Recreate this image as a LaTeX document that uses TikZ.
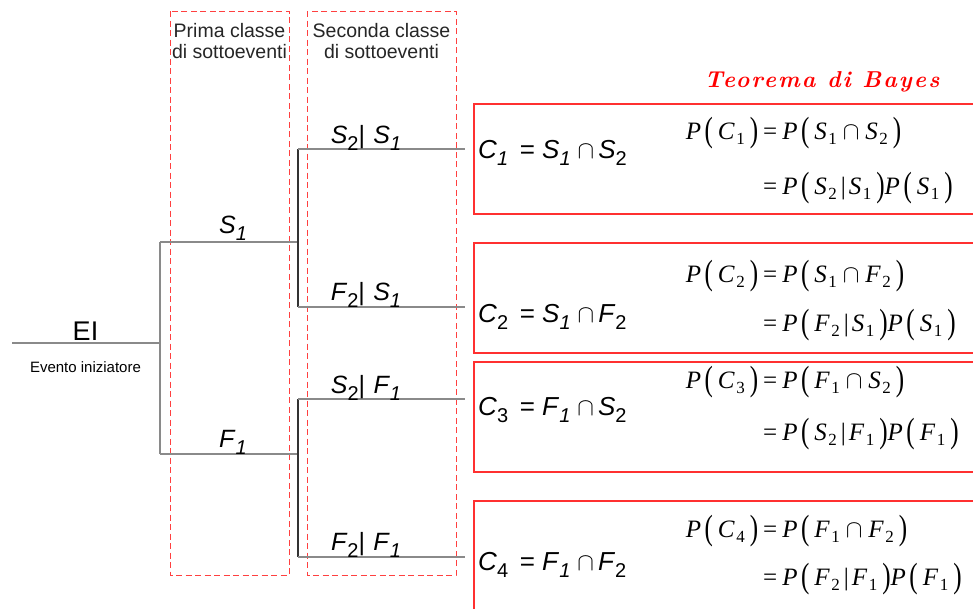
\documentclass[tikz,border=0pt]{standalone}
\usepackage{graphicx}
\usepackage{fontspec}
\setmainfont{Liberation Sans}
\newfontfamily\tms{Liberation Serif}
\newfontfamily\ttlfont[LetterSpace=9]{lmroman10-bolditalic.otf}
\definecolor{boxred}{HTML}{FF3030}
\definecolor{dashred}{HTML}{FF4040}
\definecolor{treegray}{HTML}{8A8A8A}
% serif equation helpers
\newcommand\ei[1]{{\tms\itshape #1\/}}
\newcommand\es[1]{\kern1.5pt\raisebox{-0.45ex}{\fontsize{17}{17}\selectfont\tms #1}}
\newcommand\lpar{\raisebox{-2.6pt}{\scalebox{1}[1.4]{\tms (}}}
\newcommand\rpar{\raisebox{-2.6pt}{\scalebox{1}[1.4]{\tms )}}}
\newcommand\cbar{\kern4pt{\tms |}\kern3pt}
\newcommand\capp{\kern6pt$\cap$\kern6pt}
\newcommand\PP[1]{\ei{P}\kern3.5pt\lpar\kern5pt#1\kern5pt\rpar}
\newcommand\V[2]{\ei{#1}\es{#2}}
\newcommand\eqs{{\tms\kern5pt=\kern5pt}}
% sans label helpers
\newcommand\SV[2]{\textit{#1}\raisebox{-0.3em}{\fontsize{20}{20}\selectfont #2}}
\begin{document}
\begin{tikzpicture}[x=1pt,y=-1pt,
  tree/.style={draw=treegray, line width=1.3pt},
  treedark/.style={draw=black!80, line width=1.1pt},
  dbox/.style={draw=dashred, line width=1pt, dash pattern=on 6pt off 3.5pt},
  rbox/.style={draw=boxred, line width=1.1pt},
  header/.style={anchor=base, font=\fontsize{19.5}{21}\selectfont, text=black!85, inner sep=0pt},
  lab/.style={anchor=base, font=\fontsize{25}{28}\selectfont, inner sep=0pt},
  clab/.style={anchor=base west, font=\fontsize{26}{28}\selectfont, inner sep=0pt},
  eqn/.style={anchor=base west, font=\fontsize{25}{26}\selectfont, inner sep=0pt}
]
\useasboundingbox (0,0) rectangle (973,608);

% dashed class boxes
\draw[dbox] (170,11) rectangle (289,575);
\draw[dbox] (307,11) rectangle (456,575);
\node[header] (h1a) at (229.5,37) {Prima classe};
\node[header] (h1b) at (229.5,58) {di sottoeventi};
\node[header] (h2a) at (381.5,37) {Seconda classe};
\node[header] (h2b) at (381.5,58) {di sottoeventi};

% tree coordinates
\coordinate (ei) at (12,343);
\coordinate (j0) at (160,343);
\coordinate (s1a) at (160,242);
\coordinate (s1b) at (298,242);
\coordinate (f1a) at (160,454);
\coordinate (f1b) at (298,454);
\coordinate (a1) at (298,149);
\coordinate (a2) at (298,307);
\coordinate (b1) at (298,399);
\coordinate (b2) at (298,557);
\coordinate (e1) at (465,149);
\coordinate (e2) at (465,307);
\coordinate (e3) at (465,399);
\coordinate (e4) at (465,557);

\draw[tree] (ei) -- (j0);
\draw[tree] (s1a) -- (f1a);
\draw[tree] (s1a) -- (s1b);
\draw[tree] (f1a) -- (f1b);
\draw[treedark] (a1) -- (a2);
\draw[treedark] (b1) -- (b2);
\draw[tree] (a1) -- (e1);
\draw[tree] (a2) -- (e2);
\draw[tree] (b1) -- (e3);
\draw[tree] (b2) -- (e4);

% tree labels
\node[anchor=base, font=\fontsize{27}{30}\selectfont, inner sep=0pt] (eil) at (85.5,340) {EI};
\node[anchor=base, font=\fontsize{15}{18}\selectfont, inner sep=0pt] (eid) at (85.5,372) {Evento iniziatore};
\node[lab] (ls1) at (233,233) {\SV{S}{\textit{1}}};
\node[lab] (lf1) at (233,447) {\SV{F}{\textit{1}}};
\node[lab] (l21) at (366,143) {\SV{S}{2}|\,\,\SV{S}{\textit{1}}};
\node[lab] (l22) at (366,300) {\SV{F}{2}|\,\,\SV{S}{\textit{1}}};
\node[lab] (l23) at (366,393) {\SV{S}{2}|\,\,\SV{F}{\textit{1}}};
\node[lab] (l24) at (366,550) {\SV{F}{2}|\,\,\SV{F}{\textit{1}}};

% title
\node[anchor=base, text=red, font=\fontsize{23}{26}\selectfont\ttlfont, inner sep=0pt] (ttl) at (822,87) {Teorema di Bayes};

% result boxes
\draw[rbox] (474,104) rectangle (990,214);
\draw[rbox] (474,243) rectangle (990,353);
\draw[rbox] (474,362) rectangle (990,472);
\draw[rbox] (474,501) rectangle (990,630);

\node[clab] (c1) at (478,158) {\SV{C}{\textit{1}}\, = \SV{S}{\textit{1}}$\;\cap\,$\SV{S}{2}};
\node[clab] (c2) at (478,322) {\SV{C}{2}\, = \SV{S}{\textit{1}}$\;\cap\,$\SV{F}{2}};
\node[clab] (c3) at (478,415) {\SV{C}{3}\, = \SV{F}{\textit{1}}$\;\cap\,$\SV{S}{2}};
\node[clab] (c4) at (478,570) {\SV{C}{4}\, = \SV{F}{\textit{1}}$\;\cap\,$\SV{F}{2}};

% equations (the '=' signs of both lines are aligned at x = 758)
\node[eqn] (p1a) at (758,139) {\llap{\PP{\V{C}{1}}}\eqs\PP{\V{S}{1}\capp\V{S}{2}}};
\node[eqn] (p1b) at (758,194) {\eqs\PP{\V{S}{2}\cbar\V{S}{1}}\PP{\V{S}{1}}};

\node[eqn] (p2a) at (758,282) {\llap{\PP{\V{C}{2}}}\eqs\PP{\V{S}{1}\capp\V{F}{2}}};
\node[eqn] (p2b) at (758,331) {\eqs\PP{\V{F}{2}\cbar\V{S}{1}}\PP{\V{S}{1}}};

\node[eqn] (p3a) at (758,388) {\llap{\PP{\V{C}{3}}}\eqs\PP{\V{F}{1}\capp\V{S}{2}}};
\node[eqn] (p3b) at (758,440) {\eqs\PP{\V{S}{2}\cbar\V{F}{1}}\PP{\V{F}{1}}};

\node[eqn] (p4a) at (758,537) {\llap{\PP{\V{C}{4}}}\eqs\PP{\V{F}{1}\capp\V{F}{2}}};
\node[eqn] (p4b) at (758,585) {\eqs\PP{\V{F}{2}\cbar\V{F}{1}}\PP{\V{F}{1}}};
\end{tikzpicture}
\end{document}
